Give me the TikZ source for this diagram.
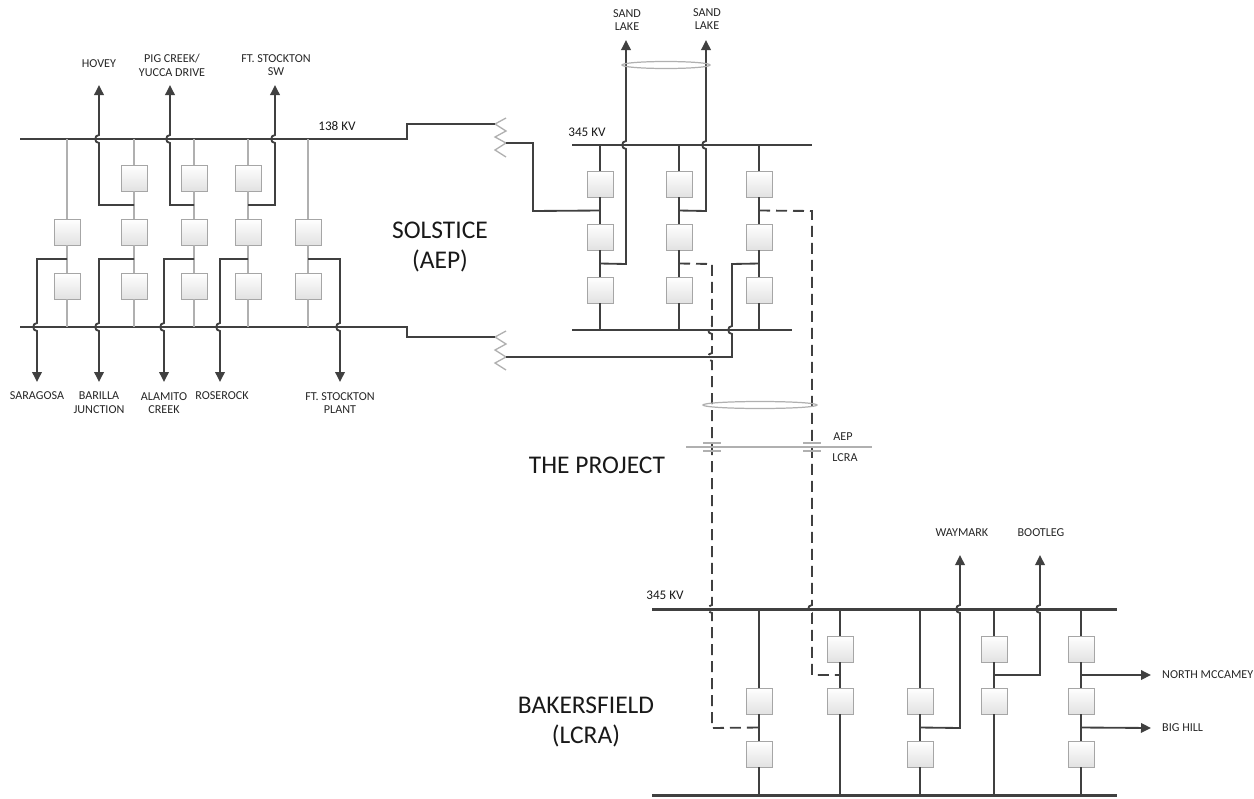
\documentclass[tikz,border=0pt]{standalone}
\usepackage{fontspec}
\setmainfont{Carlito}
\usetikzlibrary{arrows.meta,calc}

\definecolor{wire}{HTML}{404040}
\definecolor{boxline}{HTML}{A6A6A6}
\definecolor{boxfill}{HTML}{E2E2E2}
\definecolor{faint}{HTML}{B0B0B0}

% line jumps over a bus, for a vertical run going up or down
\newcommand{\hopup}[2]{-- (#1,#2+4) .. controls (#1-5,#2+4) and (#1-5,#2-4) .. (#1,#2-4)}
\newcommand{\hopdn}[2]{-- (#1,#2-4) .. controls (#1-5,#2-4) and (#1-5,#2+4) .. (#1,#2+4)}

\begin{document}
\begin{tikzpicture}
  [x=0.02cm,y=-0.02cm,
   brk/.style={draw=boxline,top color=white,bottom color=boxfill,minimum size=0.52cm,inner sep=0pt},
   bus/.style={draw=wire,line width=1.7pt},
   bay/.style={draw=wire,line width=1.05pt},
   lbay/.style={draw=faint,line width=0.75pt},
   feed/.style={draw=wire,line width=1.05pt,-{Triangle[length=0.2cm,width=0.19cm]}},
   tie/.style={draw=wire,line width=1.05pt,dash pattern=on 0.22cm off 0.12cm},
   small/.style={font=\fontsize{6.9}{7.8}\selectfont,align=center,text=black!85},
   kv/.style={font=\fontsize{7.5}{9}\selectfont,text=black!90},
   big/.style={font=\fontsize{14.5}{17.5}\selectfont,align=center,text=black!90}]
  \useasboundingbox (0,0) rectangle (1254,798);

  % ---- 138 kV yard
  \coordinate (ta) at (20,139);
  \coordinate (tb) at (375,139);
  \coordinate (ba) at (20,327);
  \coordinate (bb) at (375,327);
  \draw[bus] (ta) -- (tb);
  \draw[bus] (ba) -- (bb);
  \node[kv] (kv138) at (337,126) {138 KV};

  \foreach \i/\x in {1/67,2/134,3/194,4/248,5/308} {
    \coordinate (at\i) at (\x,139);
    \coordinate (ab\i) at (\x,327);
    \node[brk] (am\i) at (\x,232) {};
    \node[brk] (al\i) at (\x,286) {};
  }
  \foreach \i/\x in {2/134,3/194,4/248}
    \node[brk] (au\i) at (\x,178) {};

  \foreach \from/\to in {at1/am1,am1/al1,al1/ab1,at2/au2,au2/am2,am2/al2,al2/ab2,
                         at3/au3,au3/am3,am3/al3,al3/ab3,at4/au4,au4/am4,am4/al4,al4/ab4,
                         at5/am5,am5/al5,al5/ab5}
    \draw[lbay] (\from) -- (\to);

  \node[small] (lhov) at (99,64) {HOVEY};
  \node[small] (lpig) at (172,65) {PIG CREEK/\\YUCCA DRIVE};
  \node[small] (lfsw) at (276,65) {FT. STOCKTON\\SW};
  \node[small] (lsar) at (37,396) {SARAGOSA};
  \node[small] (lbar) at (99,403) {BARILLA\\JUNCTION};
  \node[small] (lala) at (164,403) {ALAMITO\\CREEK};
  \node[small] (lros) at (222,396) {ROSEROCK};
  \node[small] (lfsp) at (340,403) {FT. STOCKTON\\PLANT};

  \coordinate (hov) at (99,85);
  \coordinate (pig) at (170,85);
  \coordinate (fsw) at (275,85);
  \coordinate (sar) at (37,382);
  \coordinate (bar) at (99,382);
  \coordinate (ala) at (164,382);
  \coordinate (ros) at (220,382);
  \coordinate (fsp) at (340,382);

  \draw[feed] ($(au2)!.5!(am2)$) -- (99,205) \hopup{99}{139} -- (hov);
  \draw[feed] ($(au3)!.5!(am3)$) -- (170,205) \hopup{170}{139} -- (pig);
  \draw[feed] ($(au4)!.5!(am4)$) -- (275,205) \hopup{275}{139} -- (fsw);
  \draw[feed] ($(am1)!.5!(al1)$) -- (37,259) \hopdn{37}{327} -- (sar);
  \draw[feed] ($(am2)!.5!(al2)$) -- (99,259) \hopdn{99}{327} -- (bar);
  \draw[feed] ($(am3)!.5!(al3)$) -- (164,259) \hopdn{164}{327} -- (ala);
  \draw[feed] ($(am4)!.5!(al4)$) -- (220,259) \hopdn{220}{327} -- (ros);
  \draw[feed] ($(am5)!.5!(al5)$) -- (340,259) \hopdn{340}{327} -- (fsp);

  % ---- Solstice 345 kV
  \coordinate (sa) at (572,145);
  \coordinate (sb) at (812,145);
  \coordinate (sc) at (572,330);
  \coordinate (sd) at (792,330);
  \draw[bus] (sa) -- (sb);
  \draw[bus] (sc) -- (sd);
  \node[kv] (kv345s) at (587,132) {345 KV};

  \foreach \i/\x in {1/600,2/679,3/759} {
    \coordinate (st\i) at (\x,145);
    \coordinate (sbt\i) at (\x,330);
    \node[brk] (su\i) at (\x,184) {};
    \node[brk] (sm\i) at (\x,237) {};
    \node[brk] (sl\i) at (\x,290) {};
  }
  \foreach \from/\to in {st1/su1,su1/sm1,sm1/sl1,sl1/sbt1,st2/su2,su2/sm2,sm2/sl2,sl2/sbt2,
                         st3/su3,su3/sm3,sm3/sl3,sl3/sbt3}
    \draw[bay] (\from) -- (\to);

  \node[small] (lsl1) at (627,20) {SAND\\LAKE};
  \node[small] (lsl2) at (707,19) {SAND\\LAKE};
  \coordinate (sl1end) at (626,40);
  \coordinate (sl2end) at (706,40);
  \draw[feed] ($(sm1)!.5!(sl1)$) -- (626,264) \hopup{626}{145} -- (sl1end);
  \draw[feed] ($(su2)!.5!(sm2)$) -- (706,211) \hopup{706}{145} -- (sl2end);
  \draw[faint,line width=0.7pt] (666,65) ellipse [x radius=44, y radius=3.5];

  % autotransformers 138/345
  \coordinate (xa1) at (495,124);
  \coordinate (xa2) at (506,143);
  \coordinate (xb1) at (495,337);
  \coordinate (xb2) at (506,357);
  \draw[faint,line width=0.75pt] (506,118) -- (xa1) -- (506,131) -- (495,137) -- (xa2) -- (495,150) -- (506,157);
  \draw[faint,line width=0.75pt] (506,331) -- (xb1) -- (506,344) -- (495,350) -- (xb2) -- (495,363) -- (506,370);
  \draw[bay] (tb) -- (407,139) -- (407,124) -- (xa1);
  \draw[bay] (xa2) -- (533,143) -- (533,211) -- ($(su1)!.5!(sm1)$);
  \draw[bay] (bb) -- (407,327) -- (407,337) -- (xb1);
  \draw[bay] (xb2) -- (732,357) \hopup{732}{330} -- (732,264) -- ($(sm3)!.5!(sl3)$);

  \node[big] (solstice) at (440,247) {SOLSTICE\\(AEP)};

  % ---- Bakersfield 345 kV
  \coordinate (ka) at (652,609);
  \coordinate (kb) at (1117,609);
  \coordinate (kc) at (652,795);
  \coordinate (kd) at (1117,795);
  \draw[bus] (ka) -- (kb);
  \draw[bus] (kc) -- (kd);
  \node[kv] (kv345b) at (665,595) {345 KV};

  \foreach \i/\x in {1/759,2/840,3/920,4/994,5/1081} {
    \coordinate (kt\i) at (\x,609);
    \coordinate (kb\i) at (\x,795);
    \node[brk] (km\i) at (\x,701) {};
  }
  \foreach \i/\x in {2/840,4/994,5/1081}
    \node[brk] (ku\i) at (\x,649) {};
  \foreach \i/\x in {1/759,3/920,5/1081}
    \node[brk] (kl\i) at (\x,754) {};

  \foreach \from/\to in {kt1/km1,km1/kl1,kl1/kb1,kt2/ku2,ku2/km2,km2/kb2,kt3/km3,km3/kl3,kl3/kb3,
                         kt4/ku4,ku4/km4,km4/kb4,kt5/ku5,ku5/km5,km5/kl5,kl5/kb5}
    \draw[bay] (\from) -- (\to);

  \node[small] (lway) at (962,533) {WAYMARK};
  \node[small] (lboot) at (1041,533) {BOOTLEG};
  \node[small,anchor=west] (lnmc) at (1156,675) {NORTH MCCAMEY};
  \node[small,anchor=west] (lbgh) at (1156,728) {BIG HILL};
  \coordinate (way) at (960,555);
  \coordinate (boot) at (1040,555);
  \coordinate (nmc) at (1151,675);
  \coordinate (bgh) at (1151,728);
  \draw[feed] ($(km3)!.5!(kl3)$) -- (960,728) \hopup{960}{609} -- (way);
  \draw[feed] ($(ku4)!.5!(km4)$) -- (1040,675) \hopup{1040}{609} -- (boot);
  \draw[feed] ($(ku5)!.5!(km5)$) -- (nmc);
  \draw[feed] ($(km5)!.5!(kl5)$) -- (bgh);

  \node[big] (bakers) at (586,722) {BAKERSFIELD\\(LCRA)};

  % ---- the project, AEP / LCRA boundary
  \draw[tie] ($(sm2)!.5!(sl2)$) -- (712,264) \hopdn{712}{330} \hopdn{712}{357} \hopdn{712}{609} -- (712,728) -- ($(km1)!.5!(kl1)$);
  \draw[tie] ($(su3)!.5!(sm3)$) -- (812,211) \hopdn{812}{609} -- (812,675) -- ($(ku2)!.5!(km2)$);
  \draw[faint,line width=0.7pt] (760,405) ellipse [x radius=57, y radius=3.5];
  \draw[faint,line width=0.7pt] (686,447) -- (872,447);
  \foreach \x in {712,812}
    \draw[faint,line width=0.8pt] (\x-9,443) -- (\x+9,443) (\x-9,451) -- (\x+9,451);
  \node[small] (laep) at (843,437) {AEP};
  \node[small] (llcra) at (845,458) {LCRA};
  \node[big] (project) at (597,465) {THE PROJECT};

\end{tikzpicture}
\end{document}
